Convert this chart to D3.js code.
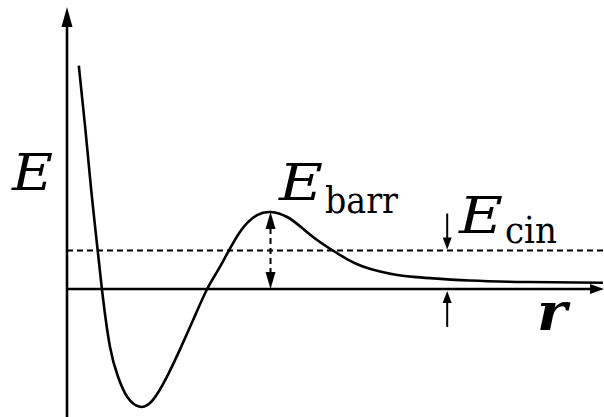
<!DOCTYPE html>
<html>
<head>
<meta charset="utf-8">
<script src="https://cdn.jsdelivr.net/npm/d3@7"></script>
<style>
  html, body { margin: 0; padding: 0; background: #fff; }
  svg { display: block; }
</style>
</head>
<body>
<svg id="chart" width="604" height="417"></svg>
<script>
// potential curve (r in arbitrary units, E scaled so barrier = 1)
var rValues = [0.22, 0.34, 0.45, 0.54, 0.65, 0.80, 0.95, 1.12, 1.36, 1.60, 1.86, 2.10, 2.35, 2.61, 2.85,
               3.22, 3.54, 3.79, 4.10, 4.40, 4.67, 4.95, 5.23, 5.51, 5.83, 6.15, 6.45, 6.76, 7.50, 8.57, 9.98];
var eValues = [2.90, 2.09, 1.29, 0.70, 0.00, -0.75, -1.14, -1.40, -1.53, -1.44, -1.14, -0.79, -0.40, 0.00, 0.29,
               0.74, 0.96, 1.00, 0.935, 0.78, 0.63, 0.50, 0.383, 0.292, 0.227, 0.182, 0.158, 0.141, 0.110, 0.091, 0.082];
// levels
var eBarr = 1.0;      // top of the barrier
var eCin = 0.5;       // kinetic energy level
var rBarr = 3.79;     // where the barrier arrow sits
var rCin = 7.08;      // where the E_cin arrows sit

var serif = "'DejaVu Serif', serif";

var svg = d3.select('#chart'),
    width = +svg.attr('width'),
    height = +svg.attr('height');

var x = d3.scaleLinear().domain([0, 10]).range([67, 604]);
var y = d3.scaleLinear().domain([-1.662, 3.662]).range([417, 7]);

var pts = rValues.map(function(r, i) { return [r, eValues[i]]; });

// little helper: filled triangle head with tip at (x2,y2), pointing away from (x1,y1)
function arrowHead(g, x1, y1, x2, y2, len, half) {
  var a = Math.atan2(y2 - y1, x2 - x1),
      bx = x2 - len * Math.cos(a), by = y2 - len * Math.sin(a),
      px = -Math.sin(a) * half, py = Math.cos(a) * half;
  g.append('path')
    .attr('d', 'M' + x2 + ',' + y2 + 'L' + (bx + px) + ',' + (by + py) + 'L' + (bx - px) + ',' + (by - py) + 'Z')
    .attr('fill', '#000');
}

var g = svg.append('g');

// axes
var x0 = x(0), y0 = y(0);
g.append('line').attr('x1', x0).attr('y1', height).attr('x2', x0).attr('y2', 25)
  .attr('stroke', '#000').attr('stroke-width', 2.6);
arrowHead(g, x0, height, x0, 7, 20, 5.5);
g.append('line').attr('x1', x0).attr('y1', y0).attr('x2', 592).attr('y2', y0)
  .attr('stroke', '#000').attr('stroke-width', 2.6);
arrowHead(g, x0, y0, 604, y0, 14, 5);

// kinetic energy level
g.append('line').attr('x1', x0).attr('x2', width).attr('y1', y(eCin)).attr('y2', y(eCin))
  .attr('stroke', '#000').attr('stroke-width', 2).attr('stroke-dasharray', '6,4');

// potential curve
var line = d3.line()
  .x(function(d) { return x(d[0]); })
  .y(function(d) { return y(d[1]); })
  .curve(d3.curveNatural);
g.append('path').datum(pts).attr('d', line)
  .attr('fill', 'none').attr('stroke', '#000').attr('stroke-width', 2.6);

// barrier height: dashed double arrow
var bx = x(rBarr), yTop = y(eBarr), yBot = y0;
g.append('line').attr('x1', bx).attr('x2', bx).attr('y1', yTop + 16).attr('y2', yBot - 16)
  .attr('stroke', '#000').attr('stroke-width', 2).attr('stroke-dasharray', '6,4');
arrowHead(g, bx, yBot, bx, yTop, 17, 5);
arrowHead(g, bx, yTop, bx, yBot, 17, 5);

// E_cin arrows, pointing at the dashed level and at the axis
var cx = x(rCin);
g.append('line').attr('x1', cx).attr('x2', cx).attr('y1', y(eCin) - 37).attr('y2', y(eCin) - 10)
  .attr('stroke', '#000').attr('stroke-width', 2);
arrowHead(g, cx, y(eCin) - 37, cx, y(eCin) - 1, 12, 4.5);
g.append('line').attr('x1', cx).attr('x2', cx).attr('y1', y0 + 38).attr('y2', y0 + 10)
  .attr('stroke', '#000').attr('stroke-width', 2);
arrowHead(g, cx, y0 + 38, cx, y0 + 2, 12, 4.5);

// labels
function mathLabel(px, py, main, sub, mainW, subW, subX, subDy) {
  var t = svg.append('text').attr('x', px).attr('y', py).style('font-family', serif);
  t.append('tspan').attr('font-style', 'italic').attr('font-size', 51)
    .attr('textLength', mainW).attr('lengthAdjust', 'spacingAndGlyphs').text(main);
  if (sub) {
    t.append('tspan').attr('x', subX).attr('dy', subDy).attr('font-size', 37)
      .attr('textLength', subW).attr('lengthAdjust', 'spacingAndGlyphs').text(sub);
  }
}
mathLabel(12, 190, 'E', null, 41);
mathLabel(279, 200, 'E', 'barr', 44, 73, 325, 13);
mathLabel(459, 233, 'E', 'cin', 44, 52, 505, 10);

svg.append('text').attr('x', 537).attr('y', 330).style('font-family', serif)
  .attr('font-style', 'italic').attr('font-weight', 'bold').attr('font-size', 52)
  .attr('textLength', 30).attr('lengthAdjust', 'spacingAndGlyphs').text('r');
</script>
</body>
</html>
